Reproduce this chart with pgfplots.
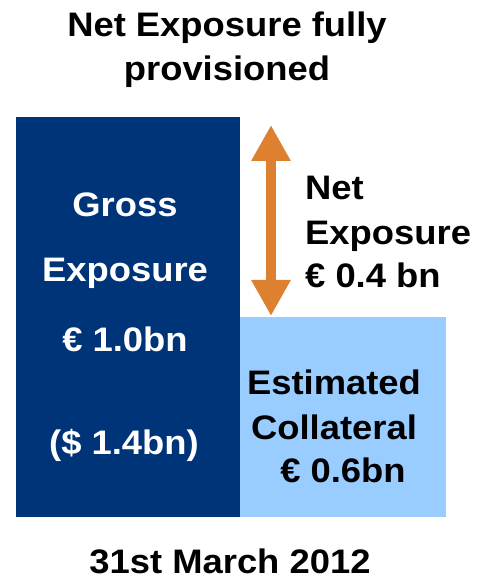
\documentclass[border=0pt]{standalone}
\usepackage{fontspec}
\setmainfont{Liberation Sans}[FakeStretch=1.07]
\usepackage{pgfplots}
\pgfplotsset{compat=1.18}
\usetikzlibrary{arrows.meta}
\definecolor{darkbar}{RGB}{0,52,120}
\definecolor{lightbar}{RGB}{153,204,255}
\definecolor{arroworange}{RGB}{221,128,48}
\begin{document}
\begin{tikzpicture}
\useasboundingbox (0,0) rectangle (491bp,579bp);
\begin{axis}[
  at={(0,0)}, anchor=south west,
  scale only axis, width=491bp, height=579bp,
  xmin=0, xmax=491, ymin=-62, ymax=517,
  hide axis, clip=false,
]
% Gross exposure bar (1.0bn) and estimated collateral bar
\addplot[ybar, bar width=224, bar shift=0, fill=darkbar, draw=none] coordinates {(128,400)};
\addplot[ybar, bar width=206, bar shift=0, fill=lightbar, draw=none] coordinates {(343,200)};
% Net exposure double arrow
\addplot[arroworange, line width=10bp, {Triangle[width=37bp,length=36bp]}-{Triangle[width=37bp,length=36bp]}] coordinates {(271,392) (271,201)};
\tikzset{lab/.style={anchor=base, font=\fontsize{34bp}{40bp}\selectfont\bfseries, inner sep=0pt}}
% Title
\node[lab] at (axis cs:227,480) {Net Exposure fully};
\node[lab] at (axis cs:227,436) {provisioned};
% Gross bar text
\node[lab, text=white] at (axis cs:125,300) {Gross};
\node[lab, text=white] at (axis cs:125,235) {Exposure};
\node[lab, text=white] at (axis cs:125,165) {€ 1.0bn};
\node[lab, text=white] at (axis cs:124,62) {(\$ 1.4bn)};
% Net exposure text
\node[lab, anchor=base west] at (axis cs:305,317) {Net};
\node[lab, anchor=base west] at (axis cs:305,272) {Exposure};
\node[lab, anchor=base west] at (axis cs:305,229) {€ 0.4 bn};
% Collateral text
\node[lab] at (axis cs:334,122) {Estimated};
\node[lab] at (axis cs:334,77) {Collateral};
\node[lab] at (axis cs:343,34) {€ 0.6bn};
% Date
\node[lab] at (axis cs:230,-56) {31st March 2012};
\end{axis}
\end{tikzpicture}
\end{document}
